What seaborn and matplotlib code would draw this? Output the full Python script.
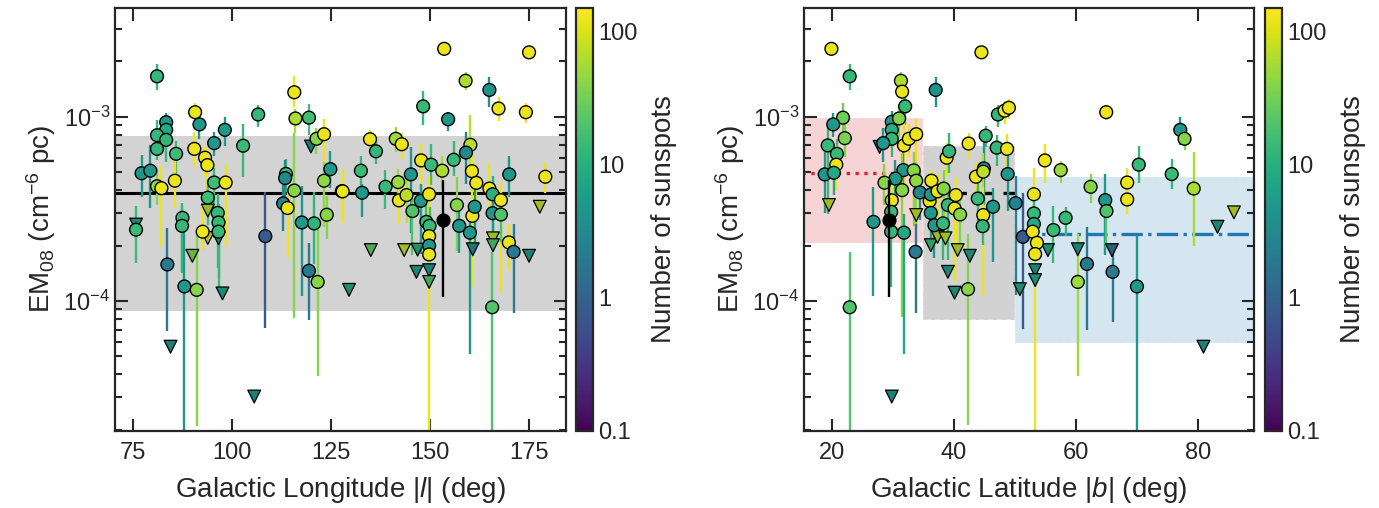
import numpy as np
import pandas as pd
import matplotlib
matplotlib.use("Agg")
import matplotlib.pyplot as plt
from matplotlib.colors import LogNorm, ListedColormap
from matplotlib.cm import ScalarMappable
import seaborn as sns

# ---------------- data ----------------
# detections vs Galactic longitude: l (deg), EM (1e-4 cm^-6 pc), sunspot number, -/+ errors (dex)
lon_l = [81.1, 115.7, 90.7, 106.6, 116.0, 119.4, 83.4, 91.8, 98.2, 83.4, 81.1, 83.4, 121.3, 123.2,
         95.5, 90.5, 81.1, 102.8, 85.9, 93.2, 93.8, 77.2, 79.4, 124.8, 113.6, 113.4, 123.2, 85.6,
         81.1, 82.2, 95.5, 98.4, 115.7, 127.7, 93.9, 112.9, 114.0, 96.4, 87.5, 123.9, 87.4, 96.6,
         117.6, 120.7, 75.8, 92.6, 96.6, 108.4, 83.7, 119.4, 121.6, 88.0, 91.1,
         153.5, 174.9, 158.9, 164.9, 167.2, 174.1, 148.2, 154.5, 134.8, 141.3, 142.8, 136.3, 160.1,
         159.0, 147.7, 150.2, 155.9, 153.0, 132.5, 145.1, 160.5, 161.6, 169.9, 179.0, 127.9, 132.8,
         138.7, 141.9, 142.1, 144.0, 147.6, 149.7, 145.5, 149.0, 149.8, 149.7, 149.7, 149.7, 156.7,
         157.3, 160.6, 161.2, 160.0, 164.9, 165.7, 167.8, 165.7, 167.8, 169.8, 171.0, 165.6]
lon_em = [16.6, 13.6, 10.6, 10.3, 9.8, 9.9, 9.35, 9.1, 8.5, 8.5, 7.95, 7.5, 7.6, 8.05,
          7.2, 6.7, 6.7, 6.97, 6.3, 6.0, 5.47, 4.94, 5.1, 5.2, 4.9, 4.65, 4.5, 4.5,
          4.2, 4.1, 4.4, 4.4, 3.98, 3.95, 3.64, 3.39, 3.2, 3.01, 2.83, 2.94, 2.56, 2.67,
          2.67, 2.64, 2.44, 2.38, 2.38, 2.25, 1.58, 1.46, 1.27, 1.2, 1.15,
          23.4, 22.4, 15.7, 14.0, 11.1, 10.6, 11.4, 9.7, 7.56, 7.6, 7.1, 6.5, 7.05,
          6.4, 5.8, 5.5, 5.85, 5.1, 5.1, 4.87, 5.07, 4.38, 4.87, 4.73, 3.94, 3.87,
          4.17, 4.42, 3.52, 3.76, 3.5, 3.8, 3.08, 2.69, 2.56, 2.25, 2.0, 1.79, 3.32,
          2.56, 2.9, 3.25, 2.35, 4.08, 3.8, 3.53, 3.0, 2.95, 2.08, 1.85, 0.925]
lon_n = [13, 120, 120, 13, 60, 16, 5, 5, 5, 8, 13, 12, 40, 120,
         5, 120, 13, 14, 15, 120, 120, 5, 5, 5, 14, 3, 45, 120,
         45, 120, 15, 120, 40, 120, 15, 2.5, 120, 13, 13, 40, 13, 14,
         5, 12, 14, 120, 14, 0.8, 2, 2, 40, 5, 40,
         120, 120, 60, 4, 120, 120, 14, 5, 120, 50, 120, 13, 70,
         3, 120, 14, 14, 60, 14, 5, 120, 120, 5, 120, 120, 5,
         14, 50, 120, 70, 5, 120, 20, 14, 14, 120, 5, 120, 40,
         5, 120, 5, 5, 120, 10, 120, 5, 20, 120, 2, 20]
lon_lo = [.076, .08, .05, .07, .08, .095, .06, .08, .09, .1, .1, .12, .08, .15,
          .07, .1, .06, .17, .15, .1, .2, .13, .2, .1, .1, .15, .25, .15,
          .1, .32, .3, .35, .69, .17, .15, .15, .27, .3, .3, .13, .25, .3,
          .4, .22, .18, .1, .3, .5, .36, .27, .51, .8, .74,
          .03, .03, .05, .09, .07, .06, .1, .065, .05, .07, .08, .07, .17,
          .17, .22, .11, .09, .1, .09, .32, .12, .15, .12, .09, .17, .13,
          .12, .1, .13, .15, .29, .15, .24, .15, .15, .15, .2, 1.0, .25,
          .15, .38, .2, .66, .15, .27, .5, .2, .15, .15, .33, .9]
lon_hi = [.065, .087, .05, .05, .05, .075, .05, .05, .07, .08, .08, .1, .06, .08,
          .06, .09, .05, .12, .07, .06, .1, .1, .14, .1, .08, .1, .1, .12,
          .1, .12, .08, .1, .31, .07, .1, .1, .1, .1, .08, .1, .1, .1,
          .2, .17, .13, .15, .1, .24, .2, .15, .3, .3, .3,
          .03, .03, .05, .07, .065, .05, .085, .04, .05, .065, .06, .05, .16,
          .11, .09, .11, .1, .08, .08, .15, .1, .1, .1, .08, .12, .05,
          .09, .07, .07, .1, .09, .1, .1, .1, .1, .1, .1, .1, .15,
          .1, .14, .1, .1, .14, .1, .1, .1, .1, .1, .15, .3]

# upper limits vs longitude
lim_lon_l = [75.8, 90.0, 97.6, 84.5, 105.6, 129.5, 119.9, 93.9, 93.9, 96.6, 135.0, 143.4, 146.8,
             146.5, 149.7, 149.7, 160.7, 165.8, 165.8, 174.9, 177.6]
lim_lon_em = [2.6, 1.76, 1.1, 0.565, 0.303, 1.15, 6.9, 3.1, 2.2, 2.19, 1.89, 1.89, 1.9,
              1.44, 1.47, 1.27, 1.91, 2.19, 2.01, 1.76, 3.25]
lim_lon_n = [6, 35, 7, 5, 5, 8, 4, 60, 100, 7, 25, 70, 8, 6, 5, 20, 3, 70, 20, 5, 70]

# detections vs Galactic latitude |b|
lat_b = [19.9, 22.9, 31.3, 31.5, 44.5, 37.0, 32.0, 21.8, 20.2, 22.1, 19.3, 20.8, 20.7, 18.8, 20.3,
         29.8, 31.0, 29.8, 29.8, 28.4, 31.8, 32.6, 33.8, 31.7, 33.4, 33.8, 30.4, 28.6, 31.5, 34.4,
         29.8, 29.7, 29.7, 31.8, 26.8, 33.7, 22.9, 36.3, 36.0, 36.2, 37.3, 36.2, 36.8, 38.2, 38.8,
         39.2, 39.0, 40.3, 40.1, 41.0, 38.3, 42.4, 43.6, 44.9, 44.8, 43.9, 44.8, 44.7, 46.4, 45.2,
         47.0, 48.7, 47.2, 48.3, 49.0, 48.8, 50.1, 42.3, 51.3, 64.96, 77.1, 77.8, 54.9, 57.5, 70.3,
         75.7, 79.3, 62.4, 68.4, 68.4, 64.8, 65.0, 53.1, 53.1, 53.1, 52.9, 53.6, 53.3, 58.3, 56.3,
         61.8, 66.0, 60.3, 70.0]
lat_em = [23.4, 16.6, 15.7, 13.7, 22.4, 14.0, 11.4, 9.9, 9.1, 7.66, 7.0, 6.3, 5.5, 4.87, 4.97,
          9.4, 9.8, 8.5, 7.6, 7.2, 7.0, 7.6, 8.05, 5.14, 5.12, 4.5, 4.62, 4.39, 4.0, 3.89,
          3.52, 3.05, 2.38, 2.35, 2.69, 1.85, 0.925, 4.5, 3.49, 3.79, 3.94, 3.01, 2.58, 2.64, 6.0,
          6.5, 3.32, 3.76, 3.18, 2.95, 4.08, 7.16, 4.73, 5.25, 5.04, 3.6, 2.93, 2.55, 3.25, 7.9,
          6.8, 6.7, 10.3, 10.8, 11.2, 4.89, 3.4, 1.16, 2.23, 10.6, 8.5, 7.6, 5.8, 5.14, 5.5,
          4.89, 4.08, 4.17, 4.4, 3.56, 3.53, 3.08, 3.8, 2.99, 2.62, 2.38, 2.07, 1.80, 2.83, 2.43,
          1.59, 1.44, 1.27, 1.2]
lat_n = [120, 13, 60, 120, 120, 4, 14, 30, 5, 35, 14, 14, 120, 5, 8,
         5, 40, 10, 13, 5, 120, 120, 120, 5, 40, 45, 5, 40, 40, 3,
         120, 14, 13, 8, 5, 2, 20, 120, 120, 5, 120, 5, 5, 13, 120,
         13, 14, 120, 120, 40, 40, 120, 120, 5, 70, 14, 120, 13, 5, 13,
         13, 120, 13, 120, 120, 5, 2.5, 40, 0.8, 120, 5, 40, 120, 50, 14,
         14, 60, 40, 120, 120, 5, 20, 120, 14, 8, 120, 120, 120, 14, 14,
         2, 2, 50, 5]
lat_lo = [.03, .076, .05, .06, .03, .09, .1, .12, .07, .1, .37, .1, .14, .21, .12,
          .1, .1, .1, .1, .1, .25, .1, .2, .12, .3, .25, .15, .12, .69, .15,
          .1, .1, .3, .66, .4, .33, .9, .1, .15, .15, .15, .15, .18, .2, .1,
          .12, .3, .3, .4, .2, .2, .08, .1, .2, .1, .15, .44, .1, .3, .06,
          .1, .1, .07, .07, .06, .2, .5, .74, .5, .04, .08, .06, .12, .07, .1,
          .08, .31, .09, .1, .08, .3, .2, .18, .1, .1, .1, .1, 1.0, .1, .18,
          .36, .27, .51, .8]
lat_hi = [.03, .065, .05, .05, .03, .07, .085, .08, .06, .08, .1, .08, .1, .16, .1,
          .06, .08, .08, .08, .08, .15, .08, .08, .1, .1, .1, .1, .1, .2, .1,
          .1, .1, .1, .1, .19, .15, .3, .06, .1, .1, .1, .1, .1, .1, .08,
          .1, .1, .1, .1, .1, .1, .06, .08, .15, .1, .1, .15, .1, .1, .05,
          .07, .08, .05, .05, .05, .1, .15, .3, .24, .04, .07, .06, .09, .05, .1,
          .08, .2, .07, .08, .05, .14, .1, .14, .1, .1, .1, .1, .1, .06, .13,
          .2, .14, .26, .28]

# upper limits vs latitude
lim_lat_b = [19.5, 27.8, 33.8, 36.2, 37.3, 38.6, 40.6, 42.6, 39.0, 40.1, 50.8, 85.9, 83.2,
             55.4, 60.3, 65.9, 53.3, 53.3, 80.9, 29.8]
lim_lat_em = [3.32, 6.87, 2.93, 2.01, 2.23, 2.19, 1.89, 1.76, 1.44, 1.11, 1.16, 3.03, 2.53,
              1.89, 1.91, 1.89, 1.47, 1.3, 0.565, 0.303]
lim_lat_n = [70, 6, 70, 14, 70, 70, 60, 6, 6, 6, 8, 70, 6, 8, 5, 1.5, 5, 7, 5, 5]

# stacked (all-sky) value: EM (1e-4) with -/+ errors in dex
stack_em, stack_lo, stack_hi = 2.75, 0.416, 0.217
stack_l, stack_b = 153.2, 29.3

# all-sky mean and spread (1e-4)
mean_all, band_all = 3.84, (0.883, 7.86)

# latitude bins: edges (deg), mean and spread (1e-4)
bin_edges = [15.0, 35.0, 50.0, 90.0]
bin_mean = [4.97, 3.84, 2.30]
bin_low = [2.07, 0.788, 0.59]
bin_high = [9.8, 6.96, 4.69]
bin_colors = ["tab:red", "gray", "tab:blue"]
bin_alpha = [0.2, 0.35, 0.18]
bin_styles = [":", (0, (5, 3)), "-."]
bin_linecolors = ["tab:red", "black", "tab:blue"]

SCALE = 1e-4

# ---------------- style ----------------
sns.set_style("ticks")
plt.rcParams["font.family"] = ["Liberation Sans", "DejaVu Sans"]
plt.rcParams["mathtext.fontset"] = "custom"
plt.rcParams["mathtext.rm"] = "Liberation Sans"
plt.rcParams["mathtext.it"] = "Liberation Sans:italic"
plt.rcParams["mathtext.default"] = "regular"

norm = LogNorm(vmin=0.1, vmax=150)
cmap = plt.get_cmap("viridis")
# slightly darker shade for upper-limit triangles
dark_cmap = ListedColormap(cmap(np.linspace(0, 1, 256))[:, :3] * 0.85)

LABEL_FS = 20
TICK_FS = 17

fig = plt.figure(figsize=(13.79, 5.08), dpi=100)
ax1 = fig.add_axes([0.0834, 0.1516, 0.327, 0.8327])
cax1 = fig.add_axes([0.4177, 0.1516, 0.0123, 0.8327])
ax2 = fig.add_axes([0.5830, 0.1516, 0.3264, 0.8327])
cax2 = fig.add_axes([0.9173, 0.1516, 0.0123, 0.8327])


def draw_points(ax, x, em, n, lo, hi, lx, lem, ln, sx):
    em = np.asarray(em) * SCALE
    lo = np.asarray(lo)
    hi = np.asarray(hi)
    cols = cmap(norm(np.asarray(n)))
    ax.vlines(x, em * 10 ** (-lo), em * 10 ** hi, colors=cols, lw=1.7, zorder=2)
    det = pd.DataFrame({"x": x, "em": em, "n": n})
    sns.scatterplot(data=det, x="x", y="em", hue="n", hue_norm=norm, palette=cmap,
                    marker="o", s=85, edgecolor="black", linewidth=1.0,
                    legend=False, ax=ax, zorder=4)
    lim = pd.DataFrame({"x": lx, "em": np.asarray(lem) * SCALE, "n": ln})
    sns.scatterplot(data=lim, x="x", y="em", hue="n", hue_norm=norm, palette=dark_cmap,
                    marker="v", s=85, edgecolor="black", linewidth=0.9,
                    legend=False, ax=ax, zorder=3)
    # stacked measurement
    y0 = stack_em * SCALE
    ax.vlines([sx], [y0 * 10 ** (-stack_lo)], [y0 * 10 ** stack_hi], colors="black", lw=1.7, zorder=5)
    sns.scatterplot(x=[sx], y=[y0], color="black", marker="o", s=85, edgecolor="black",
                    linewidth=1.0, ax=ax, zorder=6, legend=False)


def style_axes(ax, xlabel):
    ax.set_yscale("log")
    ax.set_ylim(1.97e-5, 3.9e-3)
    ax.set_xlabel(xlabel, fontsize=LABEL_FS, labelpad=8)
    ax.set_ylabel(r"EM$_{08}$ (cm$^{-6}$ pc)", fontsize=LABEL_FS, labelpad=4)
    ax.tick_params(which="both", direction="in", top=True, right=True, labelsize=TICK_FS, width=1.5)
    ax.tick_params(which="major", length=9)
    ax.tick_params(which="minor", length=5)
    ax.tick_params(axis="x", which="major", pad=8)
    for s in ax.spines.values():
        s.set_linewidth(1.6)


def style_cbar(cax):
    cb = fig.colorbar(ScalarMappable(norm=norm, cmap=cmap), cax=cax)
    cb.set_ticks([0.1, 1, 10, 100])
    cb.set_ticklabels(["0.1", "1", "10", "100"])
    cax.tick_params(which="both", direction="in", labelsize=TICK_FS, width=1.5)
    cax.tick_params(which="major", length=7)
    cax.tick_params(which="minor", length=4)
    cb.outline.set_linewidth(1.6)
    cb.set_label("Number of sunspots", fontsize=LABEL_FS, labelpad=10)


# ---- left: longitude ----
ax1.axhspan(band_all[0] * SCALE, band_all[1] * SCALE, color="lightgray", alpha=1.0, lw=0, zorder=0)
ax1.axhline(mean_all * SCALE, color="black", lw=2.2, zorder=1)
draw_points(ax1, lon_l, lon_em, lon_n, lon_lo, lon_hi,
            lim_lon_l, lim_lon_em, lim_lon_n, stack_l)
ax1.set_xlim(70.5, 184.2)
ax1.set_xticks([75, 100, 125, 150, 175])
style_axes(ax1, r"Galactic Longitude |$\it{l}$| (deg)")
style_cbar(cax1)

# ---- right: latitude ----
for i in range(len(bin_mean)):
    x0, x1 = bin_edges[i], bin_edges[i + 1]
    ax2.fill_between([x0, x1], bin_low[i] * SCALE, bin_high[i] * SCALE,
                     facecolor=bin_colors[i], alpha=bin_alpha[i], edgecolor="white",
                     linestyle="--", lw=1.2, zorder=0)
    ax2.hlines(bin_mean[i] * SCALE, x0, x1, colors=bin_linecolors[i],
               linestyles=bin_styles[i], lw=2.4, zorder=1)
draw_points(ax2, lat_b, lat_em, lat_n, lat_lo, lat_hi,
            lim_lat_b, lim_lat_em, lim_lat_n, stack_b)
ax2.set_xlim(15.4, 89.2)
ax2.set_xticks([20, 40, 60, 80])
style_axes(ax2, r"Galactic Latitude |$\it{b}$| (deg)")
style_cbar(cax2)

fig.savefig("out.png", dpi=100)
